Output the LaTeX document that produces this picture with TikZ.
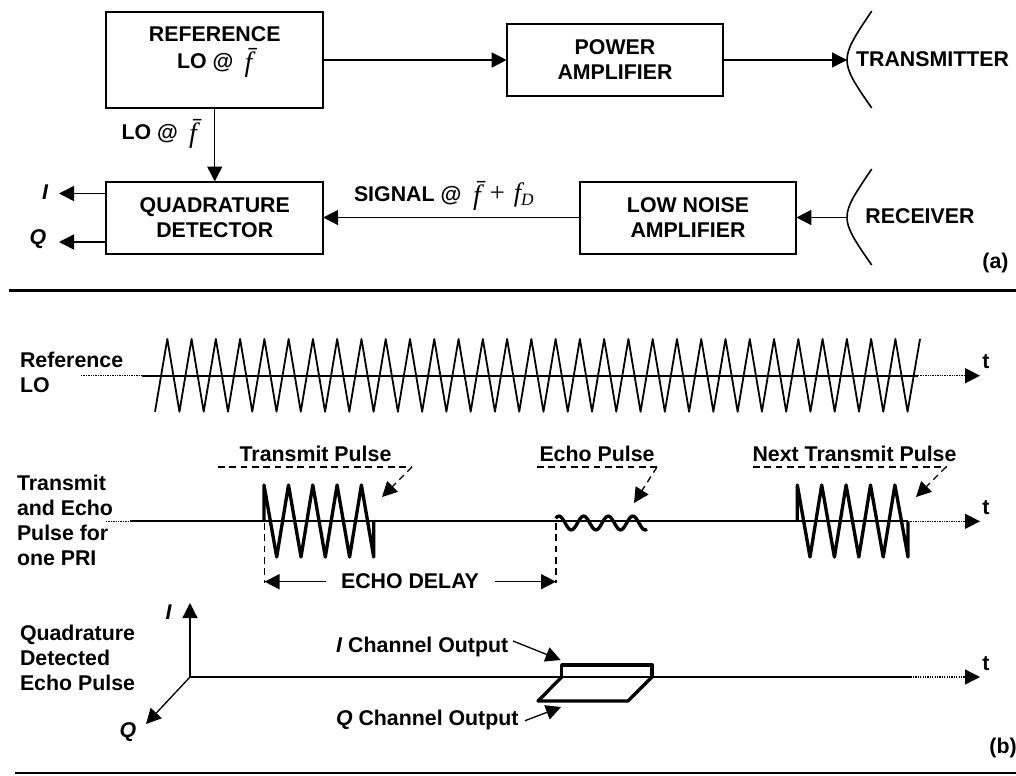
\documentclass[tikz,border=0pt]{standalone}
\usepackage{fontspec}
\setmainfont{Liberation Sans}
\newfontfamily\tms{Liberation Serif}
\usetikzlibrary{arrows.meta}
\newcommand{\fbr}{\raisebox{-2pt}{\tms\mdseries\itshape\fontsize{21}{21}\selectfont f^^^^0304}}
\newcommand{\fbrsum}{{\tms\mdseries\fontsize{20}{20}\selectfont\raisebox{-2pt}{\fontsize{21}{21}\selectfont\itshape f^^^^0304}\,\,+\,\,{\itshape f}\raisebox{-3pt}{\fontsize{13}{13}\selectfont\itshape D}}}
\tikzset{
  every node/.style={inner sep=0pt,outer sep=0pt,font=\fontsize{16}{18.75}\selectfont\bfseries},
  blockbox/.style={draw,line width=1.5pt,minimum width=162.5pt,align=center},
  wire/.style={line width=1.1pt,-{Triangle[length=11.25pt,width=11.25pt]}},
  thinarrow/.style={line width=1pt,-{Triangle[length=11.25pt,width=11.25pt]}},
  dasharrow/.style={line width=1pt,dash pattern=on 5pt off 3.5pt,-{Triangle[length=11.25pt,width=11.25pt,sep=0pt]}},
  dashline/.style={line width=1pt,dash pattern=on 5pt off 3.5pt},
  rulebar/.style={line width=1.6pt},
  dotline/.style={line width=1.1pt,dash pattern=on 1pt off .8pt},
  axisline/.style={line width=1.4pt},
  carrier/.style={line width=1.35pt,line join=round},
  pulse/.style={line width=2.5pt,line join=round},
  dish/.style={line width=1.2pt},
  sidelabel/.style={anchor=west,align=left}
}
\begin{document}
\begin{tikzpicture}[x=.75pt,y=-.75pt]
\useasboundingbox (0,0) rectangle (1016,775);
% (a) blocks
\node[blockbox,minimum height=72.5pt] (ref) at (214.75,60) {REFERENCE\\[1.5pt]LO @ \hspace{4pt}\fbr\hspace{6pt}\\ \mbox{}};
\node[blockbox,minimum height=54pt] (pa) at (615,60) {POWER\\AMPLIFIER};
\node[blockbox,minimum height=54pt] (det) at (214.75,217.5) {QUADRATURE\\DETECTOR};
\node[blockbox,minimum height=54pt] (lna) at (688,217.5) {LOW NOISE\\AMPLIFIER};
\coordinate (txv) at (847,60);
\coordinate (rxv) at (847,217.5);
\draw[dish] (871.7,11) .. controls (855,36) and (847,48) .. (txv) .. controls (847,72) and (855,84) .. (871.7,108);
\draw[dish] (871.7,169) .. controls (855,194) and (847,205) .. (rxv) .. controls (847,229) and (855,241) .. (871.7,265);
\node (txl) at (932.5,59) {TRANSMITTER};
\node (rxl) at (920,216) {RECEIVER};
\draw[wire] (ref.east) -- (pa.west);
\draw[wire] (pa.east) -- (txv);
\draw[wire] (ref.south) -- (det.north);
\draw[wire] (lna.west) -- (det.east);
\draw[wire] (rxv) -- (lna.east);
\node[anchor=east] (lolab) at (197,134) {LO @ \hspace{4pt}\fbr};
\node[anchor=west] (siglab) at (354,196) {SIGNAL @ \;\fbrsum};
\coordinate (iout) at (59,193.5);
\coordinate (qout) at (59,242);
\draw[wire] (det.west |- iout) -- (iout);
\draw[wire] (det.west |- qout) -- (qout);
\node[font=\fontsize{16}{18.75}\selectfont\bfseries\itshape] (il) at (45,192) {I};
\node[font=\fontsize{16}{18.75}\selectfont\bfseries\itshape] (ql) at (38,239) {Q};
\node (a) at (995.5,263) {(a)};
\coordinate (r1a) at (9,290.5);
\coordinate (r1b) at (1016,290.5);
\draw[rulebar] (r1a) -- (r1b);
% (b) reference LO
\node[sidelabel] (lolabel) at (20,372) {Reference\\LO};
\coordinate (l1a) at (81,375.7);
\coordinate (l1b) at (142,375.7);
\coordinate (l1c) at (918,375.7);
\coordinate (l1d) at (980,375.7);
\draw[dotline] (l1a) -- (l1b);
\draw[axisline] (l1b) -- (l1c);
\draw[thinarrow,dash pattern=on 1pt off .8pt] (l1c) -- (l1d);
\draw[carrier] (155,411.7) \foreach \k in {0,...,30} { -- ({167.3+24.27*\k},339) -- ({179.43+24.27*\k},411.7) } -- (920,339);
\node (t1) at (986,362) {t};
% transmit/echo
\node[sidelabel] (txlabel) at (17,520) {Transmit\\[0pt]and Echo\\[0pt]Pulse for\\[0pt]one PRI};
\coordinate (l2a) at (106,521.3);
\coordinate (l2b) at (130,521.3);
\coordinate (l2c) at (908,521.3);
\coordinate (l2d) at (980,521.3);
\draw[dotline] (l2a) -- (l2b);
\draw[axisline] (l2b) -- (l2c);
\draw[thinarrow,dash pattern=on 1pt off .8pt] (l2c) -- (l2d);
\node (t2) at (986,508) {t};
\draw[pulse] (264,521.3) -- (264,485) \foreach \k in {0,...,3} { -- ({276.7+24.3*\k},557) -- ({288.5+24.3*\k},485) } -- (373.7,557) -- (373.7,521.3);
\draw[pulse] (797.3,521.3) -- (797.3,485) \foreach \k in {0,...,3} { -- ({810+24.4*\k},557) -- ({821.7+24.4*\k},485) } -- (908,557) -- (908,521.3);
\draw[pulse,smooth] plot[domain=555.7:647,samples=50] (\x,{523-7*cos(14.634*(\x-559))});
% callouts
\node (tp) at (315.5,454) {Transmit Pulse};
\node (ep) at (597,454) {Echo Pulse};
\node (np) at (854.5,454) {Next Transmit Pulse};
\coordinate (tpa) at (218,467); \coordinate (tpb) at (412,467); \coordinate (tpc) at (382,497);
\coordinate (epa) at (537,467); \coordinate (epb) at (657,467); \coordinate (epc) at (634,503);
\coordinate (npa) at (753,467); \coordinate (npb) at (946,467); \coordinate (npc) at (916,497);
\draw[dashline] (tpa) -- (tpb); \draw[dasharrow] (tpb) -- (tpc);
\draw[dashline] (epa) -- (epb); \draw[dasharrow] (epb) -- (epc);
\draw[dashline] (npa) -- (npb); \draw[dasharrow] (npb) -- (npc);
% echo delay
\coordinate (da) at (264.5,523); \coordinate (db) at (264.5,583);
\coordinate (dc) at (556,523); \coordinate (dd) at (556,583);
\draw[dashline] (da) -- (db);
\draw[dashline] (dc) -- (dd);
\node (ed) at (410,581) {ECHO DELAY};
\coordinate (dl) at (264.5,581.7); \coordinate (dr) at (556,581.7);
\coordinate (dls) at (326,581.7); \coordinate (drs) at (494.5,581.7);
\draw[wire] (dls) -- (dl);
\draw[wire] (drs) -- (dr);
% quadrature
\node[sidelabel] (qlabel) at (20,657.5) {Quadrature\\[0pt]Detected\\[0pt]Echo Pulse};
\coordinate (o) at (190,677); \coordinate (iax) at (190,603); \coordinate (qax) at (146,724);
\coordinate (l3b) at (910.5,677); \coordinate (l3d) at (980,677);
\draw[thinarrow] (o) -- (iax);
\draw[thinarrow] (o) -- (qax);
\draw[axisline] (o) -- (l3b);
\draw[thinarrow,dash pattern=on 1pt off .8pt] (l3b) -- (l3d);
\node[font=\fontsize{16}{18.75}\selectfont\bfseries\itshape] (il2) at (168.5,612) {I};
\node[font=\fontsize{16}{18.75}\selectfont\bfseries\itshape] (ql2) at (128,732) {Q};
\node (t3) at (986,664) {t};
\draw[pulse] (561.7,677) -- (561.7,665) -- (652,665) -- (652,677);
\draw[pulse] (561.7,677) -- (538,701) -- (628,701) -- (652,677);
\node[anchor=west] (ich) at (336,647) {\textit{I} Channel Output};
\node[anchor=west] (qch) at (336,720) {\textit{Q} Channel Output};
\coordinate (ita) at (513,641); \coordinate (itb) at (560.6,660);
\coordinate (qta) at (525,720.7); \coordinate (qtb) at (561,707);
\draw[thinarrow] (ita) -- (itb);
\draw[thinarrow] (qta) -- (qtb);
\node (b) at (1003,748) {(b)};
\coordinate (r2a) at (15,773); \coordinate (r2b) at (1016,773);
\draw[rulebar] (r2a) -- (r2b);
\end{tikzpicture}
\end{document}
